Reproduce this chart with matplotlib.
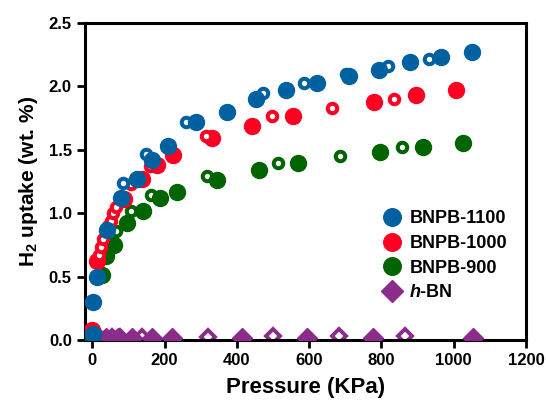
import numpy as np
import matplotlib.pyplot as plt

plt.rcParams['font.family'] = 'Liberation Sans'
plt.rcParams['font.weight'] = 'bold'
plt.rcParams['mathtext.fontset'] = 'custom'
plt.rcParams['mathtext.rm'] = 'Liberation Sans:bold'
plt.rcParams['mathtext.it'] = 'Liberation Sans:italic:bold'
plt.rcParams['mathtext.bf'] = 'Liberation Sans:bold'

#%% data (pressure in KPa, uptake in wt. %)

# BNPB-1100
p1100_ads = [3, 3, 12, 42, 80, 125, 164, 210, 287, 372, 452, 536, 623, 709, 794, 880, 965, 1050]
u1100_ads = [0.05, 0.30, 0.50, 0.87, 1.12, 1.27, 1.42, 1.53, 1.72, 1.80, 1.90, 1.97, 2.03, 2.08, 2.13, 2.19, 2.23, 2.27]
p1100_des = [86, 148, 259, 472, 586, 701, 817, 932]
u1100_des = [1.24, 1.47, 1.72, 1.95, 2.03, 2.10, 2.16, 2.22]

# BNPB-1000
p1000_ads = [0, 14, 88, 137, 180, 224, 332, 441, 554, 780, 895, 1006]
u1000_ads = [0.08, 0.62, 1.11, 1.27, 1.38, 1.46, 1.59, 1.69, 1.77, 1.88, 1.93, 1.97]
p1000_des = [19, 23, 30, 37, 44, 51, 58, 65, 107, 160, 315, 497, 664, 836]
u1000_des = [0.67, 0.73, 0.80, 0.86, 0.90, 0.94, 1.00, 1.05, 1.23, 1.37, 1.61, 1.77, 1.83, 1.90]

# BNPB-900
p900_ads = [0, 28, 37, 60, 95, 141, 187, 235, 346, 460, 570, 796, 915, 1027]
u900_ads = [0.02, 0.51, 0.66, 0.75, 0.92, 1.02, 1.12, 1.17, 1.26, 1.34, 1.40, 1.48, 1.52, 1.55]
p900_des = [51, 65, 106, 162, 318, 515, 686, 857]
u900_des = [0.82, 0.86, 1.02, 1.14, 1.29, 1.40, 1.45, 1.52]

# h-BN
phbn_ads = [5, 37, 70, 111, 166, 221, 413, 593, 776, 1052]
uhbn_ads = [0.015, 0.016, 0.016, 0.016, 0.015, 0.016, 0.018, 0.018, 0.018, 0.02]
phbn_des = [20, 55, 77, 138, 319, 499, 684, 866]
uhbn_des = [0.025, 0.026, 0.027, 0.027, 0.027, 0.028, 0.028, 0.03]

blue = '#0061a1'
red = '#ff0022'
green = '#006400'
purple = '#8b2c8b'

fig = plt.figure(figsize=(5.46, 4.01), dpi=100)
ax = fig.add_axes([0.1557, 0.152, 0.8077, 0.7906])

# desorption (open) first, adsorption (filled) on top
ax.plot(phbn_des, uhbn_des, 'D', ms=7.5, mfc='white', mec=purple, mew=2.8, ls='none', zorder=2)
ax.plot(phbn_ads, uhbn_ads, 'D', ms=10.5, color=purple, ls='none', zorder=3, label='$h$-BN')

ax.plot(p900_des, u900_des, 'o', ms=6.8, mfc='white', mec=green, mew=2.9, ls='none', zorder=2)
ax.plot(p900_ads, u900_ads, 'o', ms=11.5, color=green, ls='none', zorder=3, label='BNPB-900')

ax.plot(p1000_ads, u1000_ads, 'o', ms=11.5, color=red, ls='none', zorder=4, label='BNPB-1000')
ax.plot(p1000_des, u1000_des, 'o', ms=6.8, mfc='white', mec=red, mew=2.9, ls='none', zorder=4)

ax.plot(p1100_des, u1100_des, 'o', ms=6.8, mfc='white', mec=blue, mew=2.9, ls='none', zorder=5)
ax.plot(p1100_ads, u1100_ads, 'o', ms=11.5, color=blue, ls='none', zorder=5, label='BNPB-1100')

ax.set_xlim(-20, 1200)
ax.set_ylim(0, 2.5)
ax.set_xticks(np.arange(0, 1201, 200))
ax.set_yticks(np.arange(0, 2.51, 0.5))
ax.set_yticklabels(['%.1f' % v for v in np.arange(0, 2.51, 0.5)])

for s in ax.spines.values():
    s.set_linewidth(2.2)
ax.tick_params(width=2, length=6, labelsize=12, direction='out')

ax.set_xlabel('Pressure (KPa)', fontsize=16, fontweight='bold', labelpad=6)
ax.set_ylabel('H$_2$ uptake (wt. %)', fontsize=15, fontweight='bold', labelpad=6)

h, l = ax.get_legend_handles_labels()
order = [3, 2, 1, 0]
ax.legend([h[i] for i in order], [l[i] for i in order], loc='upper left',
          bbox_to_anchor=(0.635, 0.46), frameon=False, fontsize=13,
          handletextpad=0.35, labelspacing=0.42, handlelength=1.2, markerscale=1.1)

fig.savefig('out.png', dpi=100)
